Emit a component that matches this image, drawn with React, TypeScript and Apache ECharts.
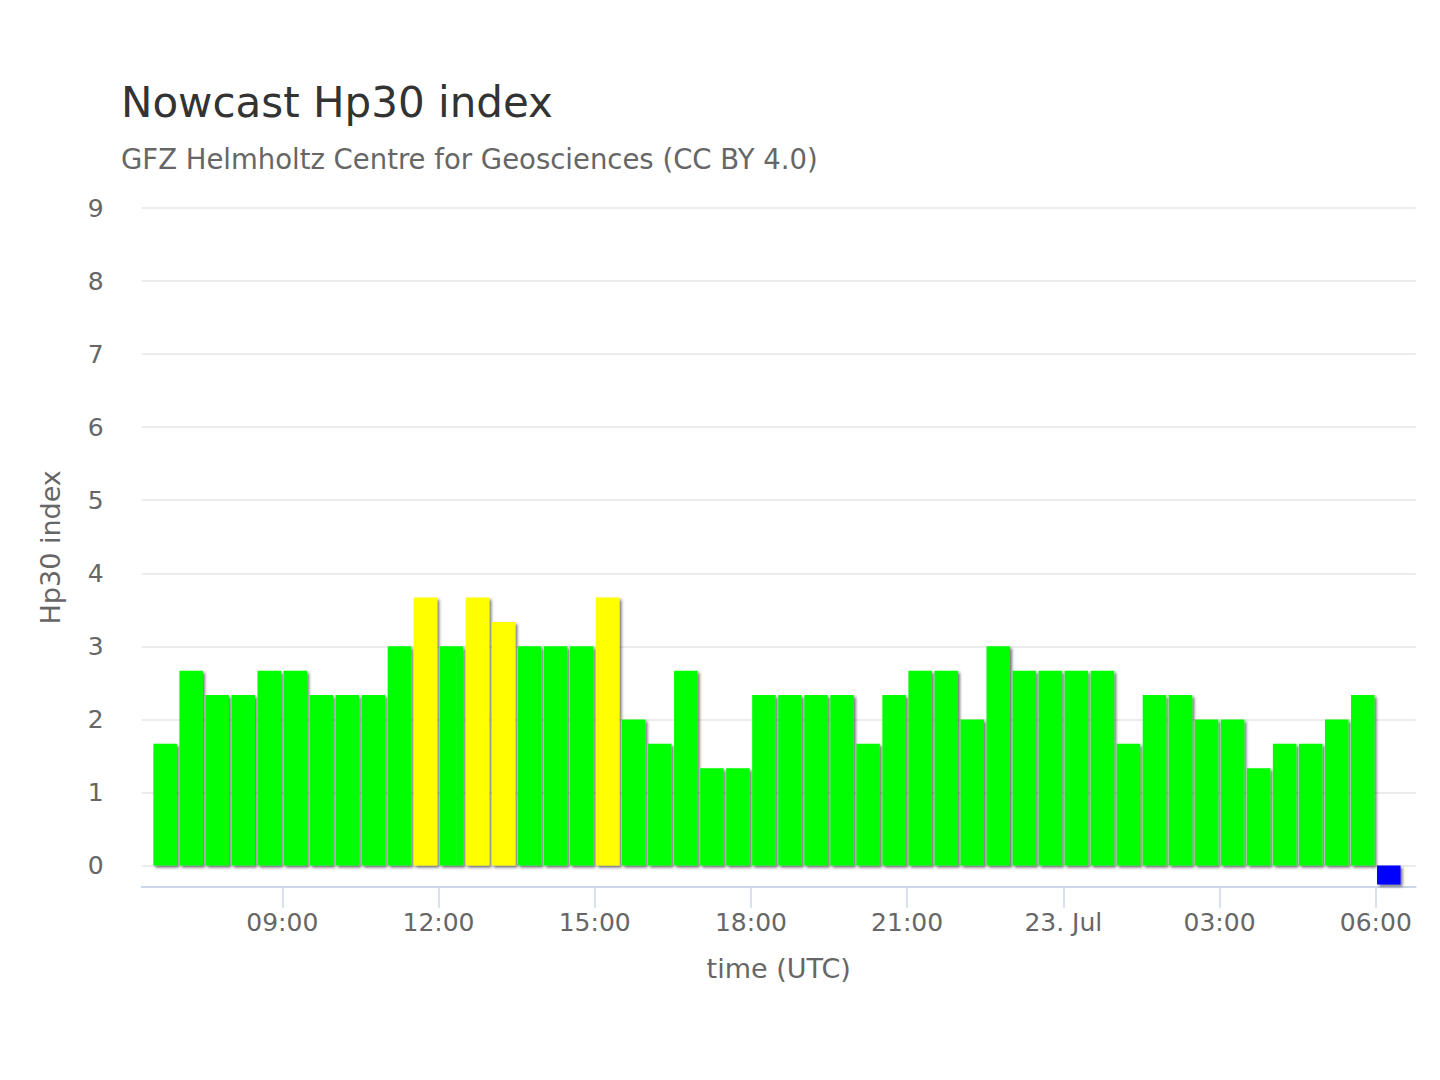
import React, { useEffect, useRef } from "react";
import * as echarts from "echarts";

const FONT = "DejaVu Sans";
const TITLE = "Nowcast Hp30 index";
const SUBTITLE = "GFZ Helmholtz Centre for Geosciences (CC BY 4.0)";
const X_NAME = "time (UTC)";
const Y_NAME = "Hp30 index";

// time in hours since 22 Jul 00:00 UTC; 30-minute intervals, bars centred on interval midpoints
const FIRST_MID_H = 6.75; // 06:30–07:00 interval
const STEP_H = 0.5;

// Hp30 values, one per 30-minute interval (last value: no data / current, drawn below zero)
const HP30 = [
  1.667, 2.667, 2.333, 2.333, 2.667, 2.667, 2.333, 2.333, 2.333, 3.0,
  3.667, 3.0, 3.667, 3.333, 3.0, 3.0, 3.0, 3.667, 2.0, 1.667,
  2.667, 1.333, 1.333, 2.333, 2.333, 2.333, 2.333, 1.667, 2.333, 2.667,
  2.667, 2.0, 3.0, 2.667, 2.667, 2.667, 2.667, 1.667, 2.333, 2.333,
  2.0, 2.0, 1.333, 1.667, 1.667, 2.0, 2.333, -0.26,
];

// x-axis ticks (hours since 22 Jul 00:00 UTC) and their labels
const TICK_HOURS = [9, 12, 15, 18, 21, 24, 27, 30];
const TICK_LABELS = ["09:00", "12:00", "15:00", "18:00", "21:00", "23. Jul", "03:00", "06:00"];

// axis extents
const X_MIN = 6.3;
const X_MAX = 30.767;
const Y_MIN = -0.29;
const Y_MAX = 9;

const GREEN = "#00ff00";
const YELLOW = "#ffff00";
const BLUE = "#0000ff";

function barColor(v: number): string {
  if (v < 0) return BLUE;
  if (v > 3.1) return YELLOW;
  return GREEN;
}

export default function App() {
  const ref = useRef<HTMLDivElement>(null);

  useEffect(() => {
    document.body.style.margin = "0";
    if (!ref.current) return;
    const chart = echarts.init(ref.current, undefined, { renderer: "svg" });

    const data = HP30.map((v, i) => ({
      value: [FIRST_MID_H + i * STEP_H, v],
      itemStyle: { color: barColor(v) },
    }));

    const option = {
      animation: false,
      backgroundColor: "#ffffff",
      textStyle: { fontFamily: FONT },
      title: [
        {
          text: TITLE,
          left: 121,
          top: 81,
          padding: 0,
          textStyle: { fontSize: 42, fontWeight: "normal", color: "#333333", fontFamily: FONT },
        },
        {
          text: SUBTITLE,
          left: 121,
          top: 145,
          padding: 0,
          textStyle: { fontSize: 27.5, fontWeight: "normal", color: "#666666", fontFamily: FONT },
        },
      ],
      grid: { left: 141.7, right: 24.3, top: 208, bottom: 193.3, containLabel: false },
      xAxis: {
        type: "value",
        min: X_MIN,
        max: X_MAX,
        name: X_NAME,
        nameLocation: "middle",
        nameGap: 68,
        nameTextStyle: { fontSize: 27, color: "#666666", fontFamily: FONT },
        axisLine: { show: true, onZero: false, lineStyle: { color: "#ccd6eb", width: 2 } },
        axisTick: {
          show: true,
          length: 21,
          customValues: TICK_HOURS,
          lineStyle: { color: "#ccd6eb", width: 1.5 },
        },
        axisLabel: {
          customValues: TICK_HOURS,
          margin: 23,
          fontSize: 25,
          color: "#666666",
          fontFamily: FONT,
          showMinLabel: true,
          showMaxLabel: true,
          formatter: (val: number) => {
            const idx = TICK_HOURS.indexOf(val);
            return idx >= 0 ? TICK_LABELS[idx] : "";
          },
        },
        splitLine: { show: false },
      },
      yAxis: {
        type: "value",
        min: Y_MIN,
        max: Y_MAX,
        splitNumber: 9,
        name: Y_NAME,
        nameLocation: "middle",
        nameGap: 78,
        nameRotate: 90,
        nameTextStyle: { fontSize: 27, color: "#666666", fontFamily: FONT },
        axisLine: { show: false },
        axisTick: { show: false },
        axisLabel: {
          margin: 38,
          fontSize: 25,
          color: "#666666",
          fontFamily: FONT,
          showMinLabel: false,
          formatter: (v: number) => (Number.isInteger(v) ? String(v) : ""),
        },
        splitLine: { show: true, lineStyle: { color: "#e6e6e6", width: 1.5 } },
      },
      series: [
        {
          type: "bar",
          data,
          barWidth: 23.5,
          itemStyle: {
            shadowColor: "rgba(0,0,0,0.55)",
            shadowBlur: 3,
            shadowOffsetX: 2,
            shadowOffsetY: 2,
          },
        },
      ],
    };

    chart.setOption(option as any);
    return () => chart.dispose();
  }, []);

  return <div ref={ref} style={{ width: 1440, height: 1080 }} />;
}
